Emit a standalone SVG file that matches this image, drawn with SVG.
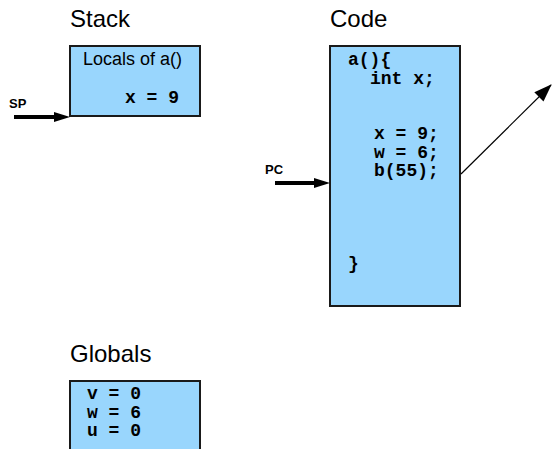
<svg xmlns="http://www.w3.org/2000/svg" width="552" height="449" viewBox="0 0 552 449">
<style>
.box{fill:#99d6fd;stroke:#1a1a1a;stroke-width:2}
.title{font-family:"Liberation Sans",Arial,sans-serif;font-size:24px;fill:#000}
.label{font-family:"Liberation Sans",Arial,sans-serif;font-size:18px;fill:#000}
.code{font-family:"Liberation Mono","Courier New",monospace;font-size:18px;font-weight:bold;fill:#000;white-space:pre}
.ptr{font-family:"Liberation Sans",Arial,sans-serif;font-size:13px;font-weight:bold;fill:#000}
.thick{stroke:#000;stroke-width:4;fill:none}
.thin{stroke:#000;stroke-width:1.2;fill:none}
</style>
<defs>
<marker id="bighead" markerUnits="userSpaceOnUse" markerWidth="16" markerHeight="10" refX="0" refY="5" orient="auto">
<path d="M0,0 L16,5 L0,10 Z" fill="#000"/>
</marker>
<marker id="head" markerUnits="userSpaceOnUse" markerWidth="18" markerHeight="13" refX="17" refY="6.5" orient="auto">
<path d="M0,0 L18,6.5 L0,13 Z" fill="#000"/>
</marker>
</defs>
<g id="stack">
<text class="title" x="70" y="27">Stack</text>
<rect class="box" x="70" y="46" width="130" height="70"/>
<text class="label" x="83" y="65">Locals of a()</text>
<text class="code" x="125" y="103">x = 9</text>
</g>
<g id="code">
<text class="title" x="330" y="27">Code</text>
<rect class="box" x="330" y="46" width="130" height="260"/>
<text class="code" x="348" y="65">a(){</text>
<text class="code" x="370" y="83.5">int x;</text>
<text class="code" x="374" y="139">x = 9;</text>
<text class="code" x="374" y="157.5">w = 6;</text>
<text class="code" x="374" y="176">b(55);</text>
<text class="code" x="348" y="269">}</text>
</g>
<g id="globals">
<text class="title" x="70" y="362">Globals</text>
<rect class="box" x="70" y="381" width="130" height="80"/>
<text class="code" x="87" y="399">v = 0</text>
<text class="code" x="87" y="417.5">w = 6</text>
<text class="code" x="87" y="436">u = 0</text>
</g>
<g id="sp">
<text class="ptr" x="9" y="108">SP</text>
</g>
<g id="pc">
<text class="ptr" x="265" y="174">PC</text>
</g>
<g id="connectors">
<line class="thick" x1="14" y1="117" x2="54" y2="117" marker-end="url(#bighead)"/>
<line class="thick" x1="275" y1="183" x2="314" y2="183" marker-end="url(#bighead)"/>
<line class="thin" x1="461" y1="174" x2="551" y2="85" marker-end="url(#head)"/>
</g>
</svg>
